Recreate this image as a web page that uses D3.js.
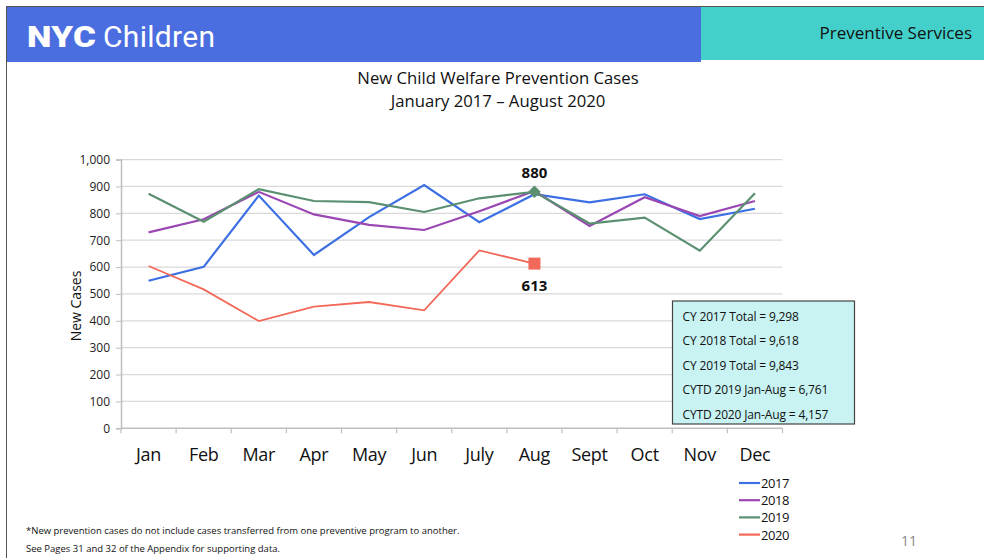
<!DOCTYPE html>
<html>
<head>
<meta charset="utf-8">
<script src="https://cdn.jsdelivr.net/npm/d3@7"></script>
<style>
  html, body { margin: 0; padding: 0; background: #fff; }
  svg { display: block; }
  text { font-family: "Open Sans", sans-serif; }
</style>
</head>
<body>
<svg id="chart" width="984" height="558"></svg>
<script>
// Monthly new prevention cases by calendar year
const months = ["Jan", "Feb", "Mar", "Apr", "May", "Jun", "July", "Aug", "Sept", "Oct", "Nov", "Dec"];
const cases2017 = [549, 601, 866, 645, 786, 905, 767, 871, 841, 871, 779, 817];
const cases2018 = [729, 778, 880, 796, 757, 738, 808, 883, 753, 860, 790, 846];
const cases2019 = [873, 769, 890, 846, 842, 805, 856, 880, 762, 784, 661, 875];
const cases2020 = [604, 517, 399, 453, 470, 439, 662, 613];
const yTicks = [0, 100, 200, 300, 400, 500, 600, 700, 800, 900, 1000];
const seriesNames = ["2017", "2018", "2019", "2020"];
const seriesColors = ["#3b6fe3", "#9a46b3", "#5a8f70", "#f2695a"];
const totals = [
  "CY 2017 Total = 9,298",
  "CY 2018 Total = 9,618",
  "CY 2019 Total = 9,843",
  "CYTD 2019 Jan-Aug = 6,761",
  "CYTD 2020 Jan-Aug = 4,157"
];
const footnotes = [
  "*New prevention cases do not include cases transferred from one preventive program to another.",
  "See Pages 31 and 32 of the Appendix for supporting data."
];

const svg = d3.select("#chart");

// Slide frame and header banner
svg.append("rect").attr("x", 6.5).attr("y", 6.5).attr("width", 990).attr("height", 560)
  .attr("fill", "none").attr("stroke", "#555").attr("stroke-width", 1);
svg.append("rect").attr("x", 7).attr("y", 7).attr("width", 694).attr("height", 55).attr("fill", "#4a6ee0");
svg.append("rect").attr("x", 701).attr("y", 7).attr("width", 283).attr("height", 53).attr("fill", "#43d0cb");

// Wordmark: wide heavy "NYC" followed by "Children"
svg.append("text").attr("transform", "translate(27,47) scale(1.16,1)")
  .attr("fill", "#fff").style("font-family", "Roboto, 'Liberation Sans', sans-serif")
  .style("font-size", "30px").style("font-weight", "900").style("letter-spacing", "0.3px")
  .text("NYC");
svg.append("text").attr("x", 103).attr("y", 47)
  .attr("fill", "#fff").style("font-family", "Roboto, 'Liberation Sans', sans-serif")
  .style("font-size", "30px").style("letter-spacing", "0.3px").text("Children");

svg.append("text").attr("x", 972).attr("y", 39).attr("text-anchor", "end")
  .style("font-size", "17px").attr("fill", "#111").text("Preventive Services");

// Title
svg.append("text").attr("x", 498).attr("y", 84).attr("text-anchor", "middle")
  .style("font-size", "16.7px").attr("fill", "#111").text("New Child Welfare Prevention Cases");
svg.append("text").attr("x", 498).attr("y", 107).attr("text-anchor", "middle")
  .style("font-size", "16.7px").attr("fill", "#111").text("January 2017 \u2013 August 2020");

// Plot area
const plotLeft = 121, plotRight = 782.5, plotTop = 159.6, plotBottom = 428.3;
const x = d3.scaleBand().domain(months).range([plotLeft, plotRight]);
const y = d3.scaleLinear().domain([0, 1000]).range([plotBottom, plotTop]);

// Horizontal gridlines
svg.append("g").selectAll("line").data(yTicks.filter(d => d > 0)).join("line")
  .attr("x1", plotLeft).attr("x2", plotRight)
  .attr("y1", d => y(d)).attr("y2", d => y(d))
  .attr("stroke", "#d9d9d9").attr("stroke-width", 1.2);

// Y axis
const yAxis = svg.append("g").attr("transform", `translate(${plotLeft},0)`)
  .call(d3.axisLeft(y).tickValues(yTicks).tickSize(5).tickPadding(6).tickFormat(d3.format(",")));
yAxis.select(".domain").attr("stroke", "#bfbfbf").attr("stroke-width", 1.5);
yAxis.selectAll(".tick line").attr("stroke", "#bfbfbf");
yAxis.selectAll(".tick text").style("font-family", "'Open Sans', sans-serif").style("font-size", "12px").attr("fill", "#222");

// X axis with boundary tick marks
const xAxis = svg.append("g").attr("transform", `translate(0,${plotBottom})`);
xAxis.append("line").attr("x1", plotLeft).attr("x2", plotRight).attr("stroke", "#bfbfbf").attr("stroke-width", 1.5);
xAxis.selectAll(".bt").data(d3.range(months.length + 1)).join("line")
  .attr("class", "bt")
  .attr("x1", i => plotLeft + i * x.step()).attr("x2", i => plotLeft + i * x.step())
  .attr("y1", 0).attr("y2", 5).attr("stroke", "#bfbfbf").attr("stroke-width", 1.2);
xAxis.selectAll("text").data(months).join("text")
  .attr("x", d => x(d) + x.bandwidth() / 2).attr("y", 33)
  .attr("text-anchor", "middle").style("font-size", "18px").style("letter-spacing", "-0.3px")
  .attr("fill", "#111").text(d => d);

// Y axis title
svg.append("text").attr("transform", "translate(81,306) rotate(-90)")
  .attr("text-anchor", "middle").style("font-size", "14px").attr("fill", "#111").text("New Cases");

// Lines
const allSeries = [cases2017, cases2018, cases2019, cases2020];
const line = d3.line().x((d, i) => x(months[i]) + x.bandwidth() / 2).y(d => y(d));
allSeries.forEach((vals, k) => {
  svg.append("path").datum(vals).attr("d", line)
    .attr("fill", "none").attr("stroke", seriesColors[k])
    .attr("stroke-width", k === 3 ? 1.8 : 2.2).attr("stroke-linejoin", "miter");
});

// Highlighted August markers with labels
const augIdx = months.indexOf("Aug");
const cxAug = x(months[augIdx]) + x.bandwidth() / 2;
svg.append("path")
  .attr("d", d3.symbol(d3.symbolDiamond2, 100)())
  .attr("transform", `translate(${cxAug},${y(cases2019[augIdx])})`)
  .attr("fill", seriesColors[2]);
svg.append("rect")
  .attr("x", cxAug - 6).attr("y", y(cases2020[augIdx]) - 6)
  .attr("width", 12).attr("height", 12).attr("fill", seriesColors[3]);
svg.append("text").attr("x", cxAug).attr("y", y(cases2019[augIdx]) - 14)
  .attr("text-anchor", "middle").style("font-size", "15px").style("font-weight", "bold")
  .attr("fill", "#111").text(cases2019[augIdx]);
svg.append("text").attr("x", cxAug).attr("y", y(cases2020[augIdx]) + 27)
  .attr("text-anchor", "middle").style("font-size", "15px").style("font-weight", "bold")
  .attr("fill", "#111").text(cases2020[augIdx]);

// Totals box
const box = svg.append("g").attr("transform", "translate(672.5,301)");
box.append("rect").attr("width", 182).attr("height", 123)
  .attr("fill", "#c8f3f2").attr("stroke", "#444").attr("stroke-width", 1.2);
box.selectAll("text").data(totals).join("text")
  .attr("x", 10).attr("y", (d, i) => 20 + i * 24.4)
  .style("font-size", "12px").style("letter-spacing", "-0.15px").attr("fill", "#111").text(d => d);

// Legend
const legend = svg.append("g").attr("transform", "translate(739,483)");
seriesNames.forEach((name, i) => {
  const g = legend.append("g").attr("transform", `translate(0,${i * 17.2})`);
  g.append("line").attr("x1", 0).attr("x2", 21).attr("stroke", seriesColors[i]).attr("stroke-width", 2.2);
  g.append("text").attr("x", 22).attr("y", 5).style("font-size", "13px").style("letter-spacing", "-0.4px")
    .attr("fill", "#111").text(name);
});

// Footnotes and page number
svg.append("text").attr("x", 26).attr("y", 534).style("font-size", "9.5px").attr("fill", "#111").text(footnotes[0]);
svg.append("text").attr("x", 26).attr("y", 552).style("font-size", "9.5px").attr("fill", "#111").text(footnotes[1]);
svg.append("text").attr("x", 909).attr("y", 546).attr("text-anchor", "middle")
  .style("font-size", "14px").attr("fill", "#888").text("11");
</script>
</body>
</html>
